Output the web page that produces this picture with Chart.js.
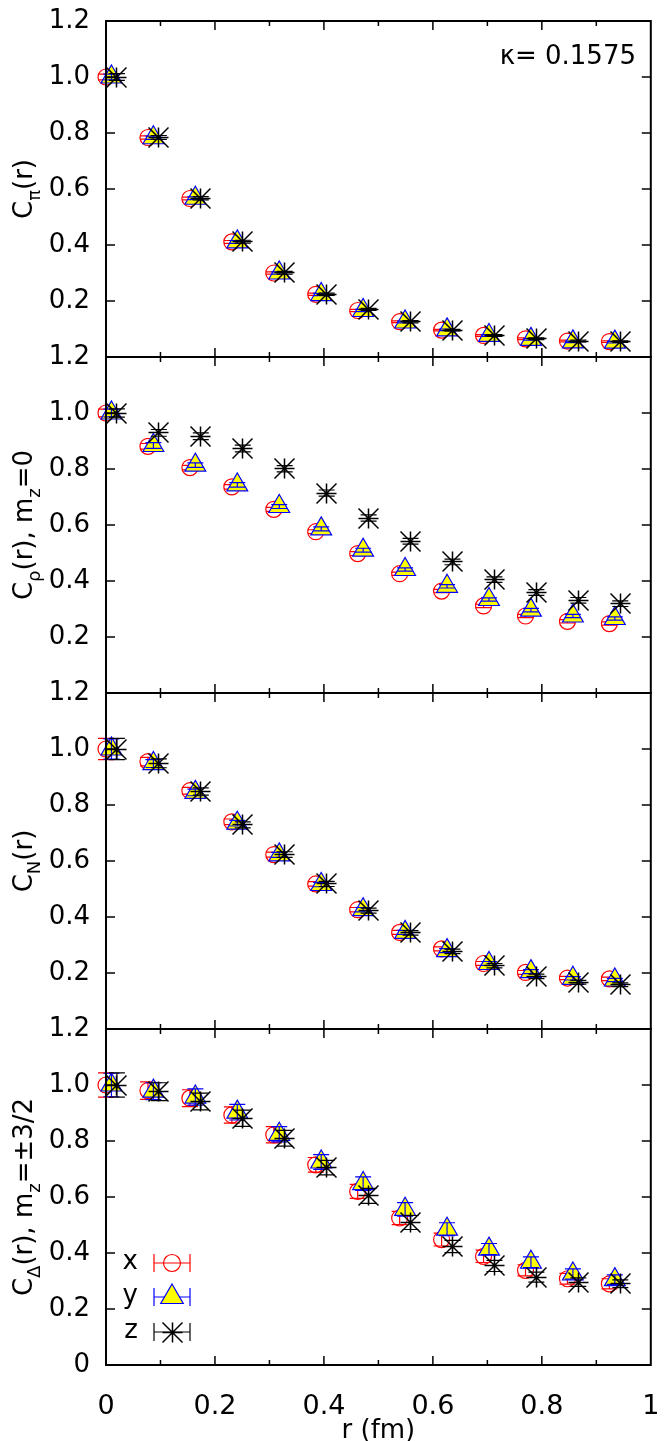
<!DOCTYPE html>
<html>
<head>
<meta charset="utf-8">
<script src="https://cdn.jsdelivr.net/npm/chart.js@4.4.1/dist/chart.umd.min.js"></script>
<style>
html,body{margin:0;padding:0;background:#fff;}
#wrap{position:relative;width:664px;height:1441px;}
</style>
</head>
<body>
<div id="wrap"><canvas id="c"></canvas></div>
<script>
// ---------- data ----------
const rX = [0.000, 0.077, 0.154, 0.231, 0.308, 0.385, 0.462, 0.539, 0.616, 0.693, 0.770, 0.847, 0.924];
const rY = [0.010, 0.087, 0.164, 0.241, 0.318, 0.395, 0.472, 0.549, 0.626, 0.703, 0.780, 0.857, 0.934];
const rZ = [0.020, 0.097, 0.174, 0.251, 0.328, 0.405, 0.482, 0.559, 0.636, 0.713, 0.790, 0.867, 0.944];

const piX = [1.000, 0.784, 0.566, 0.411, 0.300, 0.224, 0.166, 0.126, 0.096, 0.077, 0.065, 0.057, 0.055];
const piY = [1.000, 0.783, 0.567, 0.411, 0.300, 0.223, 0.166, 0.125, 0.097, 0.077, 0.063, 0.054, 0.053];
const piZ = [1.000, 0.784, 0.567, 0.412, 0.301, 0.224, 0.170, 0.126, 0.096, 0.077, 0.065, 0.057, 0.055];
const errPiX = [0.010, 0.006, 0.005, 0.005, 0.004, 0.004, 0.004, 0.003, 0.003, 0.003, 0.003, 0.003, 0.003];
const errPiY = [0.010, 0.006, 0.005, 0.005, 0.004, 0.004, 0.004, 0.003, 0.003, 0.003, 0.003, 0.003, 0.003];
const errPiZ = [0.012, 0.007, 0.006, 0.005, 0.005, 0.004, 0.004, 0.004, 0.003, 0.003, 0.003, 0.003, 0.003];

const rhoX = [1.000, 0.881, 0.805, 0.736, 0.656, 0.576, 0.498, 0.426, 0.364, 0.311, 0.275, 0.256, 0.248];
const rhoY = [1.000, 0.884, 0.814, 0.743, 0.666, 0.586, 0.510, 0.441, 0.381, 0.334, 0.296, 0.275, 0.266];
const rhoZ = [1.000, 0.929, 0.917, 0.873, 0.801, 0.714, 0.625, 0.542, 0.468, 0.405, 0.359, 0.331, 0.319];
const errRhoX = [0.014, 0.010, 0.008, 0.008, 0.007, 0.007, 0.007, 0.006, 0.006, 0.006, 0.006, 0.006, 0.006];
const errRhoY = [0.014, 0.010, 0.008, 0.008, 0.007, 0.007, 0.007, 0.006, 0.006, 0.006, 0.006, 0.006, 0.006];
const errRhoZ = [0.015, 0.012, 0.012, 0.012, 0.011, 0.011, 0.011, 0.010, 0.010, 0.010, 0.010, 0.010, 0.010];

const nucX = [1.000, 0.955, 0.851, 0.740, 0.623, 0.518, 0.426, 0.345, 0.286, 0.234, 0.202, 0.182, 0.179];
const nucY = [1.000, 0.948, 0.845, 0.735, 0.622, 0.516, 0.426, 0.345, 0.280, 0.234, 0.205, 0.181, 0.175];
const nucZ = [1.000, 0.949, 0.848, 0.729, 0.623, 0.518, 0.423, 0.343, 0.277, 0.226, 0.188, 0.167, 0.158];
const errNucX = [0.038, 0.015, 0.012, 0.010, 0.009, 0.008, 0.008, 0.007, 0.007, 0.007, 0.007, 0.006, 0.006];
const errNucY = [0.036, 0.014, 0.012, 0.010, 0.009, 0.008, 0.008, 0.007, 0.007, 0.007, 0.007, 0.006, 0.006];
const errNucZ = [0.038, 0.016, 0.013, 0.011, 0.010, 0.009, 0.009, 0.008, 0.008, 0.008, 0.008, 0.007, 0.007];

const delX = [1.000, 0.980, 0.953, 0.893, 0.822, 0.715, 0.620, 0.525, 0.448, 0.388, 0.338, 0.308, 0.290];
const delY = [1.000, 0.978, 0.957, 0.903, 0.824, 0.725, 0.648, 0.556, 0.485, 0.414, 0.367, 0.325, 0.305];
const delZ = [1.000, 0.976, 0.941, 0.881, 0.810, 0.705, 0.604, 0.509, 0.423, 0.354, 0.314, 0.296, 0.290];
const errDelX = [0.043, 0.031, 0.030, 0.029, 0.029, 0.026, 0.025, 0.024, 0.023, 0.022, 0.020, 0.019, 0.018];
const errDelY = [0.042, 0.030, 0.029, 0.028, 0.027, 0.026, 0.024, 0.024, 0.023, 0.020, 0.019, 0.018, 0.017];
const errDelZ = [0.043, 0.032, 0.030, 0.029, 0.028, 0.026, 0.027, 0.025, 0.022, 0.020, 0.018, 0.015, 0.014];

const seriesLabels = ['x', 'y', 'z'];
const xTicks = [0, 0.2, 0.4, 0.6, 0.8, 1];
const xMinorTicks = [0.1, 0.3, 0.5, 0.7, 0.9];
const yTicks = [0, 0.2, 0.4, 0.6, 0.8, 1.0, 1.2];
const xTitle = 'r (fm)';
const kappaText = 'κ= 0.1575';
// y titles as [text, isSubscript] segments
const titlePi  = [['C', 0], ['π', 1], ['(r)', 0]];
const titleRho = [['C', 0], ['ρ', 1], ['(r), m', 0], ['z', 1], ['=0', 0]];
const titleNuc = [['C', 0], ['N', 1], ['(r)', 0]];
const titleDel = [['C', 0], ['Δ', 1], ['(r), m', 0], ['z', 1], ['=±3/2', 0]];

// ---------- styling ----------
const FONT = '"DejaVu Sans", sans-serif';
const FS = 26, SUB = 18;
const CAP = 8;

function makeAsterisk(s) {
  const n = 2 * s + 3;
  const c = document.createElement('canvas');
  c.width = n; c.height = n;
  const g = c.getContext('2d');
  const m = n / 2;
  g.strokeStyle = '#000'; g.lineWidth = 1.5;
  g.beginPath();
  g.moveTo(m - s, m); g.lineTo(m + s, m);
  g.moveTo(m, m - s); g.lineTo(m, m + s);
  g.moveTo(m - s, m - s); g.lineTo(m + s, m + s);
  g.moveTo(m - s, m + s); g.lineTo(m + s, m - s);
  g.stroke();
  g.fillStyle = '#000';
  g.fillRect(m - 1.5, m - 1.5, 3, 3);
  return c;
}
const asterisk = makeAsterisk(10);

const panels = [
  {id: 'y1', title: titlePi,  vals: [piX, piY, piZ],   errs: [errPiX, errPiY, errPiZ]},
  {id: 'y2', title: titleRho, vals: [rhoX, rhoY, rhoZ], errs: [errRhoX, errRhoY, errRhoZ]},
  {id: 'y3', title: titleNuc, vals: [nucX, nucY, nucZ], errs: [errNucX, errNucY, errNucZ]},
  {id: 'y4', title: titleDel, vals: [delX, delY, delZ], errs: [errDelX, errDelY, errDelZ]}
];
const rs = [rX, rY, rZ];
const styles = [
  {pointStyle: 'circle', pointRadius: 8, legendRadius: 8.5, pointBorderColor: '#ff0000', pointBackgroundColor: 'rgba(0,0,0,0)', pointBorderWidth: 1.2, errColor: '#ff0000', order: 3},
  {pointStyle: 'triangle', pointRadius: 12, legendRadius: 13, pointBorderColor: '#0000ff', pointBackgroundColor: '#ffff00', pointBorderWidth: 1.2, errColor: '#0000ff', order: 2},
  {pointStyle: asterisk, pointRadius: 10, legendRadius: 10, pointBorderColor: '#000000', pointBackgroundColor: '#000000', pointBorderWidth: 1, errColor: '#000000', order: 1}
];

const datasets = [];
panels.forEach((p, pi) => {
  for (let s = 0; s < 3; s++) {
    datasets.push(Object.assign({
      label: seriesLabels[s],
      data: rs[s].map((r, i) => ({x: r, y: p.vals[s][i]})),
      errors: p.errs[s],
      xAxisID: 'x',
      yAxisID: p.id,
      showLine: false,
      clip: false,
      panel: pi,
      series: s
    }, styles[s]));
  }
});

function fmtY(v, isBottom) {
  if (Math.abs(v) < 1e-9) return isBottom ? '0' : '';
  return v.toFixed(1);
}

const scales = {
  x: {
    type: 'linear', position: 'bottom', min: 0, max: 1,
    afterBuildTicks: s => { s.ticks = xTicks.map(v => ({value: v})); },
    afterFit: s => { s.height = 76; s.paddingLeft = 0; s.paddingRight = 0; },
    grid: {display: false, drawTicks: false},
    border: {display: false},
    ticks: {
      autoSkip: false, maxRotation: 0, padding: 26, color: '#000',
      font: {family: FONT, size: 27},
      callback: v => (v === 0 || v === 1) ? String(v) : v.toFixed(1)
    },
    title: {display: true, text: xTitle, color: '#000', font: {family: FONT, size: FS, lineHeight: 0.75}, padding: {top: 0, bottom: 0}}
  }
};
panels.forEach((p, pi) => {
  scales[p.id] = {
    type: 'linear', position: 'left', stack: 'panels', stackWeight: 1, weight: 4 - pi,
    min: 0, max: 1.2,
    afterBuildTicks: s => { s.ticks = yTicks.map(v => ({value: v})); },
    afterFit: s => { s.width = 106; s.paddingTop = 0; s.paddingBottom = 0; },
    grid: {display: false, drawTicks: false},
    border: {display: false},
    ticks: {
      autoSkip: false, padding: 16, color: '#000',
      font: {family: FONT, size: FS},
      callback: v => fmtY(v, pi === 3)
    }
  };
});

const crispImages = {
  id: 'crispImages',
  beforeDatasetsDraw(chart) { chart.ctx.imageSmoothingEnabled = false; },
  afterDatasetsDraw(chart) { chart.ctx.imageSmoothingEnabled = true; }
};

const errorBars = {
  id: 'errorBars',
  afterDatasetDraw(chart, args) {
    const ds = chart.data.datasets[args.index];
    if (!ds.errors) return;
    const ys = chart.scales[ds.yAxisID];
    const ctx = chart.ctx;
    ctx.save();
    ctx.strokeStyle = ds.errColor;
    ctx.lineWidth = 1.2;
    args.meta.data.forEach((pt, i) => {
      const v = ds.data[i].y, e = ds.errors[i];
      const x = pt.x;
      const y1 = ys.getPixelForValue(v + e), y2 = ys.getPixelForValue(v - e);
      ctx.beginPath();
      ctx.moveTo(x, y1); ctx.lineTo(x, y2);
      ctx.moveTo(x - CAP, y1); ctx.lineTo(x + CAP, y1);
      ctx.moveTo(x - CAP, y2); ctx.lineTo(x + CAP, y2);
      ctx.stroke();
    });
    ctx.restore();
  }
};

const frame = {
  id: 'frame',
  afterDatasetsDraw(chart) {
    const ctx = chart.ctx, xs = chart.scales.x;
    const L = chart.chartArea.left, R = chart.chartArea.right;
    const line = (a, b, c, d) => { ctx.beginPath(); ctx.moveTo(a, b); ctx.lineTo(c, d); ctx.stroke(); };
    ctx.save();
    ctx.strokeStyle = '#000';
    panels.forEach(p => {
      const s = chart.scales[p.id];
      ctx.lineWidth = 1.5;
      yTicks.forEach(v => {
        if (v <= 0 || v >= 1.2) return;
        const y = s.getPixelForValue(v);
        line(L, y, L + 9, y); line(R, y, R - 9, y);
      });
      xTicks.forEach(v => {
        if (v <= 0 || v >= 1) return;
        const x = xs.getPixelForValue(v);
        line(x, s.top, x, s.top + 9); line(x, s.bottom, x, s.bottom - 9);
      });
      xMinorTicks.forEach(v => {
        const x = xs.getPixelForValue(v);
        line(x, s.top, x, s.top + 5); line(x, s.bottom, x, s.bottom - 5);
      });
      ctx.lineWidth = 2;
      ctx.strokeRect(L, s.top, R - L, s.bottom - s.top);
    });
    ctx.restore();
  }
};

function richWidth(ctx, segs) {
  let w = 0;
  segs.forEach(([t, sub]) => { ctx.font = (sub ? SUB : FS) + 'px ' + FONT; w += ctx.measureText(t).width; });
  return w;
}
function drawRich(ctx, segs, x0, y0) {
  let x = x0;
  segs.forEach(([t, sub]) => {
    ctx.font = (sub ? SUB : FS) + 'px ' + FONT;
    ctx.fillText(t, x, y0 + (sub ? 8 : 0));
    x += ctx.measureText(t).width;
  });
}

const annotations = {
  id: 'annotations',
  afterDraw(chart) {
    const ctx = chart.ctx;
    ctx.save();
    ctx.fillStyle = '#000';
    ctx.textBaseline = 'alphabetic';
    // y titles
    panels.forEach(p => {
      const s = chart.scales[p.id];
      const cy = (s.top + s.bottom) / 2;
      const w = richWidth(ctx, p.title);
      ctx.save();
      ctx.translate(32, cy);
      ctx.rotate(-Math.PI / 2);
      ctx.textAlign = 'left';
      drawRich(ctx, p.title, -w / 2, 0);
      ctx.restore();
    });
    // kappa label
    ctx.font = FS + 'px ' + FONT;
    ctx.textAlign = 'right';
    ctx.textBaseline = 'middle';
    ctx.fillText(kappaText, 636, 57);
    // legend (bottom panel)
    const rowsY = [1263, 1297, 1332];
    const lx0 = 154, lx1 = 190, lm = 172;
    for (let s = 0; s < 3; s++) {
      const ds = chart.data.datasets[9 + s];
      const y = rowsY[s];
      ctx.font = FS + 'px ' + FONT;
      ctx.textAlign = 'right';
      ctx.textBaseline = 'middle';
      ctx.fillStyle = '#000';
      ctx.fillText(ds.label, 138, y - 1);
      ctx.strokeStyle = ds.errColor;
      ctx.lineWidth = 1.2;
      ctx.beginPath();
      ctx.moveTo(lx0, y); ctx.lineTo(lx1, y);
      ctx.moveTo(lx0, y - 9); ctx.lineTo(lx0, y + 9);
      ctx.moveTo(lx1, y - 9); ctx.lineTo(lx1, y + 9);
      ctx.stroke();
      ctx.fillStyle = ds.pointBackgroundColor;
      ctx.strokeStyle = ds.pointBorderColor;
      ctx.lineWidth = ds.pointBorderWidth;
      ctx.imageSmoothingEnabled = false;
      Chart.helpers.drawPoint(ctx, {pointStyle: ds.pointStyle, radius: ds.legendRadius, rotation: 0, borderWidth: ds.pointBorderWidth}, lm, y);
      ctx.imageSmoothingEnabled = true;
    }
    ctx.restore();
  }
};

new Chart(document.getElementById('c'), {
  type: 'scatter',
  data: {datasets},
  options: {
    responsive: true,
    maintainAspectRatio: false,
    animation: false,
    events: [],
    layout: {padding: {top: 21, right: 4, bottom: 0, left: 0}},
    plugins: {legend: {display: false}, tooltip: {enabled: false}},
    scales
  },
  plugins: [crispImages, errorBars, frame, annotations]
});
</script>
</body>
</html>
